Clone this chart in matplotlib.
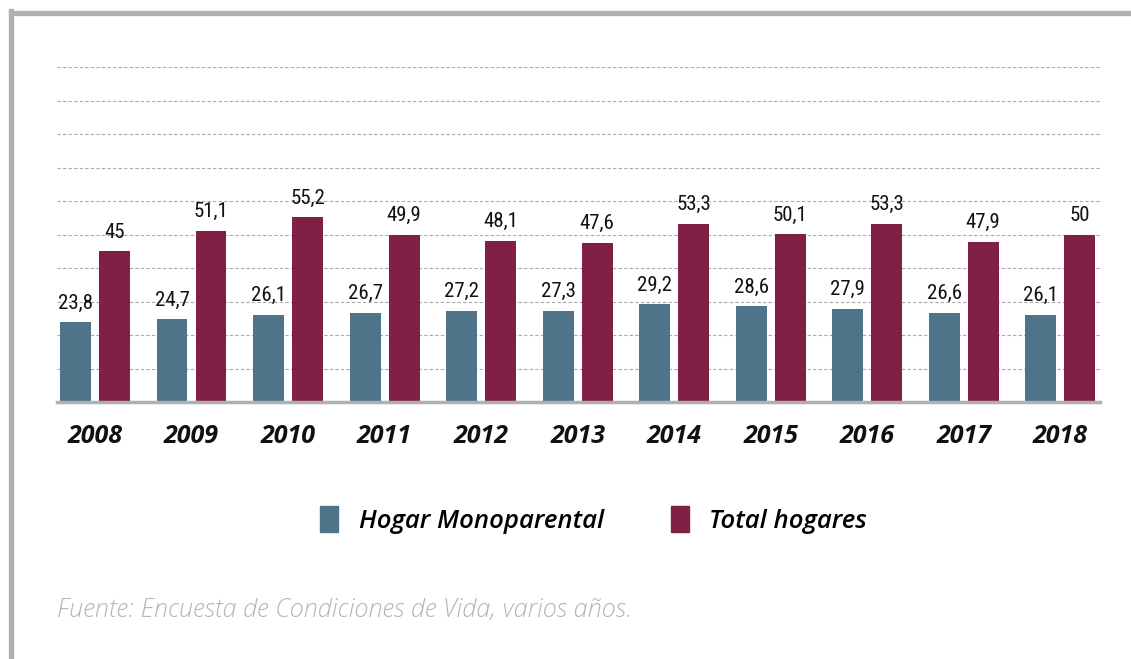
import matplotlib.pyplot as plt
import numpy as np
from matplotlib.lines import Line2D
from matplotlib.patches import Patch

years = ['2008', '2009', '2010', '2011', '2012', '2013', '2014', '2015', '2016', '2017', '2018']
monoparental = [23.8, 24.7, 26.1, 26.7, 27.2, 27.3, 29.2, 28.6, 27.9, 26.6, 26.1]
total_hogares = [45, 51.1, 55.2, 49.9, 48.1, 47.6, 53.3, 50.1, 53.3, 47.9, 50]
labels_mono = ['23,8', '24,7', '26,1', '26,7', '27,2', '27,3', '29,2', '28,6', '27,9', '26,6', '26,1']
labels_total = ['45', '51,1', '55,2', '49,9', '48,1', '47,6', '53,3', '50,1', '53,3', '47,9', '50']

c_mono = '#4f7389'
c_total = '#812046'
grey = '#b0b0b3'

fig = plt.figure(figsize=(11.31, 6.59), dpi=100)
ax = fig.add_axes([0.0504, 0.39, 0.922, 0.508])

x = np.arange(len(years))
w = 0.32
off = 0.202
b1 = ax.bar(x - off, monoparental, w, color=c_mono, zorder=3)
b2 = ax.bar(x + off, total_hogares, w, color=c_total, zorder=3)

lab_font = dict(family=['Roboto Condensed', 'Liberation Sans', 'DejaVu Sans'], fontsize=15, color='#111111')
for rect, txt in zip(b1, labels_mono):
    ax.annotate(txt, (rect.get_x() + rect.get_width() / 2, rect.get_height()),
                xytext=(0, 7), textcoords='offset points', ha='center', va='bottom', **lab_font)
for rect, txt in zip(b2, labels_total):
    ax.annotate(txt, (rect.get_x() + rect.get_width() / 2, rect.get_height()),
                xytext=(0, 7), textcoords='offset points', ha='center', va='bottom', **lab_font)

ax.set_xlim(-0.394, 10.41)
ax.set_ylim(0, 100)
ax.set_yticks(np.arange(10, 101, 10))
ax.yaxis.grid(True, linestyle=(0, (3, 2)), color='#aaaaaa', linewidth=0.8, zorder=0)
ax.tick_params(axis='y', left=False, labelleft=False)
ax.tick_params(axis='x', bottom=False, pad=12)
ax.set_xticks(x)
ax.set_xticklabels(years, family=['Open Sans', 'DejaVu Sans'], fontsize=18, fontweight='bold',
                   fontstyle='italic', color='#111111')
for s in ['top', 'right', 'left']:
    ax.spines[s].set_visible(False)
ax.spines['bottom'].set_color(grey)
ax.spines['bottom'].set_linewidth(2.5)
ax.spines['bottom'].set_zorder(4)

# legend
handles = [Patch(color=c_mono), Patch(color=c_total)]
fig.legend(handles, ['Hogar Monoparental', 'Total hogares'], loc='center',
           bbox_to_anchor=(0.525, 0.211), ncol=2, frameon=False,
           handlelength=0.7, handleheight=1.15, handletextpad=0.8, columnspacing=2.6,
           prop=dict(family=['Open Sans', 'DejaVu Sans'], size=18.5, style='italic', weight='semibold'))

fig.text(0.0504, 0.064, 'Fuente: Encuesta de Condiciones de Vida, varios años.',
         family=['Open Sans', 'DejaVu Sans'], fontsize=18.3, style='italic', weight='light',
         color='#b5b5b8')

# frame lines at top and left
fig.add_artist(Line2D([0.0093, 1.0], [0.98, 0.98], color=grey, linewidth=3.8))
fig.add_artist(Line2D([0.0093, 0.0093], [0.0, 0.983], color=grey, linewidth=3.8))

fig.savefig('out.png', dpi=100)
